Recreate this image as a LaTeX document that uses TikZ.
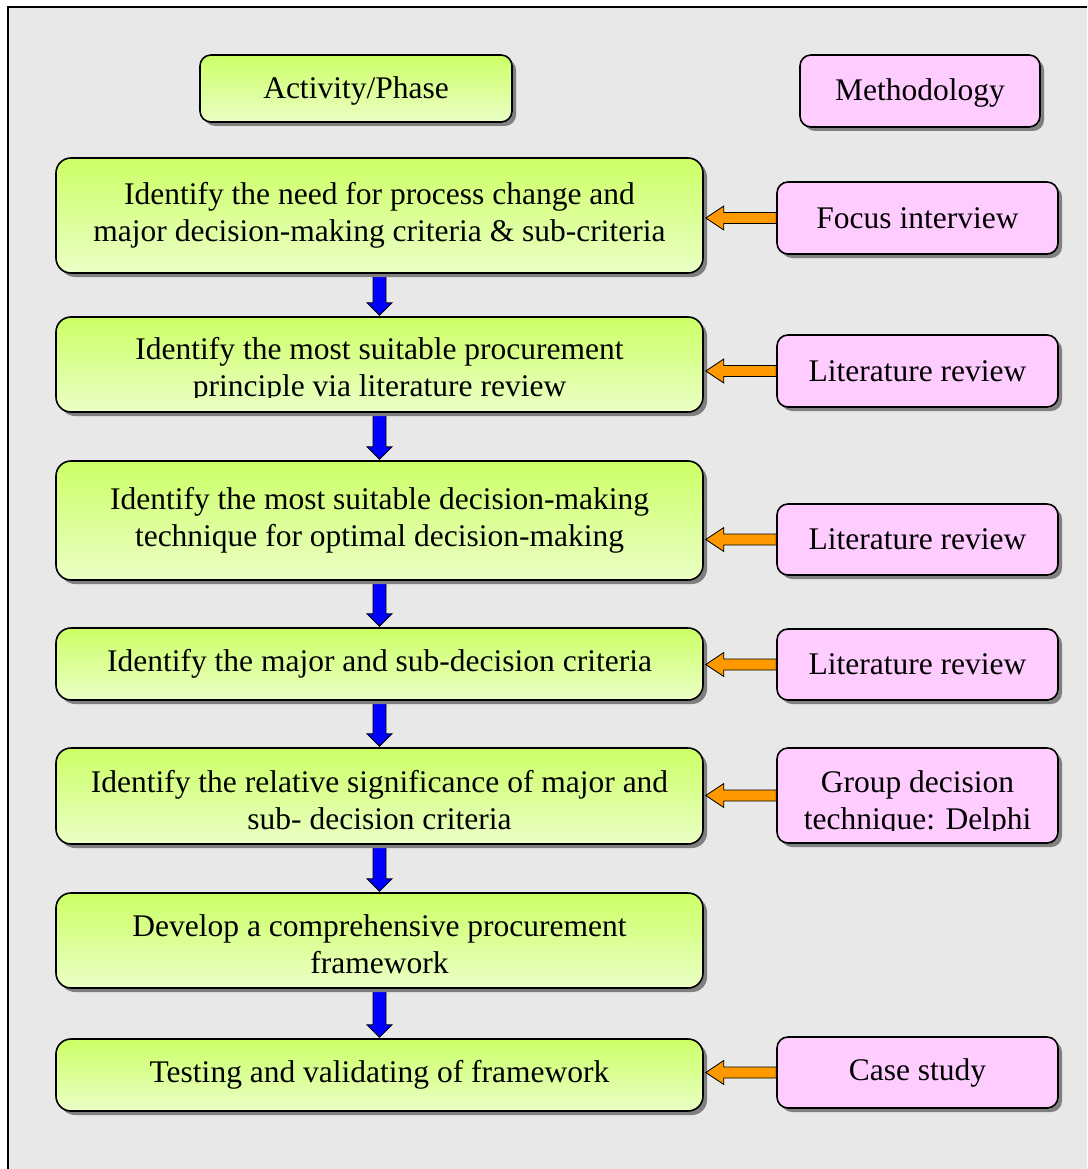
\documentclass[tikz,border=0pt]{standalone}
\usepackage{fontspec}
\setmainfont{Liberation Serif}
\usetikzlibrary{shadows,calc}
\definecolor{bgc}{HTML}{E8E8E8}
\definecolor{limetop}{HTML}{CCFF66}
\definecolor{limebot}{HTML}{EAFFC6}
\definecolor{pinkf}{HTML}{FFCCFF}
\definecolor{orangef}{HTML}{FF9900}
\definecolor{bluef}{HTML}{0000FF}
\definecolor{shadowc}{HTML}{808080}
\newcommand{\vblockarrow}[2]{%
  \draw[bluearr] let \p1=(#1.south), \p2=(#2.north) in
    (\x1-6.5pt,\y1) -- (\x1+6.5pt,\y1) -- (\x1+6.5pt,\y2+14pt) -- (\x1+12.5pt,\y2+14pt)
    -- (\x1,\y2+1.5pt) -- (\x1-12.5pt,\y2+14pt) -- (\x1-6.5pt,\y2+14pt) -- cycle;}
\newcommand{\hblockarrow}[2]{%
  \draw[orarr] let \p1=(#1.west), \p2=(#2.east) in
    (\x1,\y1+5.5pt) -- (\x2+20pt,\y1+5.5pt) -- (\x2+20pt,\y1+12pt) -- (\x2+2pt,\y1)
    -- (\x2+20pt,\y1-12pt) -- (\x2+20pt,\y1-5.5pt) -- (\x1,\y1-5.5pt) -- cycle;}
\begin{document}
\begin{tikzpicture}[x=1pt,y=-1pt,
  boxbase/.style={draw=black, line width=1.6pt, inner sep=0pt, align=center,
    font=\fontsize{31.5}{37}\selectfont,
    drop shadow={shadow xshift=4pt, shadow yshift=-4pt, fill=shadowc, opacity=1}},
  actbox/.style={boxbase, rounded corners=15pt, top color=limetop, bottom color=limebot,
    minimum width=647pt},
  headact/.style={boxbase, rounded corners=11pt, top color=limetop, bottom color=limebot},
  methbox/.style={boxbase, rounded corners=11pt, fill=pinkf, minimum width=281pt},
  txt/.style={inner sep=0pt, align=center, font=\fontsize{31.5}{37}\selectfont},
  bluearr/.style={fill=bluef, draw=black, line width=0.8pt, line join=miter},
  orarr/.style={fill=orangef, draw=black, line width=0.8pt, line join=miter}]
\useasboundingbox (0,0) rectangle (1087,1169);
\fill[bgc] (8,7) rectangle (1087,1169);
\draw[line width=1.5pt] (8,1169) -- (8,7) -- (1087,7);

\coordinate (c1) at (379.5,215.5);
\coordinate (c2) at (379.5,364.5);
\coordinate (c3) at (379.5,520.5);
\coordinate (c4) at (379.5,664);
\coordinate (c5) at (379.5,796);
\coordinate (c6) at (379.5,940.5);
\coordinate (c7) at (379.5,1075);

% invisible shapes giving the anchors of the blue arrows (drawn beneath the boxes)
\path (c1) node[minimum width=647pt, minimum height=115pt, inner sep=0pt] (a1) {};
\path (c2) node[minimum width=647pt, minimum height=95pt, inner sep=0pt] (a2) {};
\path (c3) node[minimum width=647pt, minimum height=119pt, inner sep=0pt] (a3) {};
\path (c4) node[minimum width=647pt, minimum height=72pt, inner sep=0pt] (a4) {};
\path (c5) node[minimum width=647pt, minimum height=96pt, inner sep=0pt] (a5) {};
\path (c6) node[minimum width=647pt, minimum height=95pt, inner sep=0pt] (a6) {};
\path (c7) node[minimum width=647pt, minimum height=72pt, inner sep=0pt] (a7) {};

\vblockarrow{a1}{a2}
\vblockarrow{a2}{a3}
\vblockarrow{a3}{a4}
\vblockarrow{a4}{a5}
\vblockarrow{a5}{a6}
\vblockarrow{a6}{a7}

% headers
\node[headact, minimum width=312pt, minimum height=67pt] (hact) at (356,88.5) {};
\node[txt] (hactt) at (356,90.5) {Activity/Phase};
\node[methbox, minimum width=240pt, minimum height=72pt] (hmeth) at (920,91) {};
\node[txt] (hmetht) at (920,92.5) {Methodology};

% activity boxes
\node[actbox, minimum height=115pt] (b1) at (c1) {Identify the need for process change and\\major decision-making criteria \& sub-criteria};
\node[actbox, minimum height=95pt] (b2) at (c2) {};
\begin{scope}
  \clip (56,317) rectangle (703,397.5);
  \node[txt] (b2t) at (379.5,370) {Identify the most suitable procurement\\principle via literature review};
\end{scope}
\node[actbox, minimum height=119pt] (b3) at (c3) {Identify the most suitable decision-making\\technique for optimal decision-making};
\node[actbox, minimum height=72pt] (b4) at (c4) {Identify the major and sub-decision criteria};
\node[actbox, minimum height=96pt] (b5) at (c5) {};
\node[txt] (b5t) at (379.5,800) {Identify the relative significance of major and\\sub- decision criteria};
\node[actbox, minimum height=95pt] (b6) at (c6) {};
\node[txt] (b6t) at (379.5,944.5) {Develop a comprehensive procurement\\framework};
\node[actbox, minimum height=72pt] (b7) at (c7) {Testing and validating of framework};

% methodology boxes
\node[methbox, minimum height=72pt] (m1) at (917.5,218) {Focus interview};
\node[methbox, minimum height=72pt] (m2) at (917.5,371) {Literature review};
\node[methbox, minimum height=71pt] (m3) at (917.5,539.5) {Literature review};
\node[methbox, minimum height=71pt] (m4) at (917.5,664.5) {Literature review};
\node[methbox, minimum height=95pt] (m5) at (917.5,795.5) {};
\begin{scope}
  \clip (777,748) rectangle (1058,830.5);
  \node[txt] (m5t) at (917.5,803.5) {Group decision\\technique: Delphi};
\end{scope}
\node[methbox, minimum height=71pt] (m7) at (917.5,1072.5) {Case study};

% orange arrows
\hblockarrow{m1}{b1}
\hblockarrow{m2}{b2}
\hblockarrow{m3}{b3}
\hblockarrow{m4}{b4}
\hblockarrow{m5}{b5}
\hblockarrow{m7}{b7}
\end{tikzpicture}
\end{document}
